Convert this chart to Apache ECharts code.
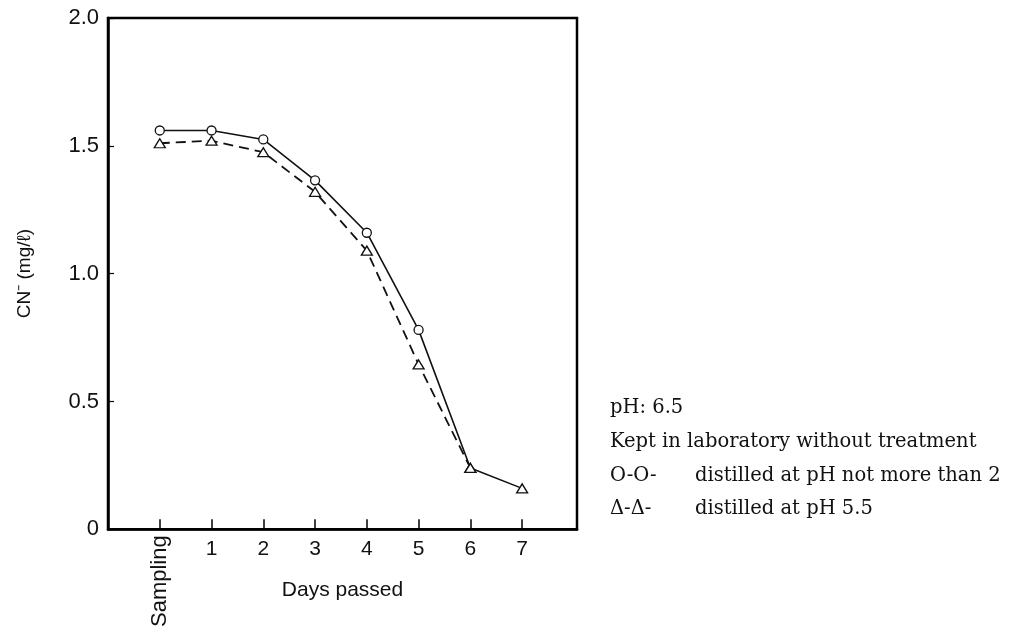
<!DOCTYPE html>
<html>
<head>
<meta charset="utf-8">
<script src="https://cdn.jsdelivr.net/npm/echarts@6/dist/echarts.min.js"></script>
<style>
  html, body { margin: 0; padding: 0; background: #fff; }
  #chart { width: 1017px; height: 630px; }
</style>
</head>
<body>
<div id="chart"></div>
<script>
// Days after sampling (0 = day of sampling)
const days = [0, 1, 2, 3, 4, 5, 6, 7];
const dayLabels = ['Sampling', '1', '2', '3', '4', '5', '6', '7'];
// CN- concentration (mg/l), distilled at pH not more than 2 (circles, solid)
const cnPh2 = [1.56, 1.56, 1.525, 1.365, 1.16, 0.78];
// CN- concentration (mg/l), distilled at pH 5.5 (triangles, dashed)
const cnPh55 = [1.51, 1.52, 1.475, 1.32, 1.09, 0.645, 0.24, 0.16];
const yTicks = [0, 0.5, 1.0, 1.5, 2.0];

const sansFont = "'Liberation Sans', Arial, Helvetica, sans-serif";
const serifFont = "'DejaVu Serif', 'Liberation Serif', serif";

// Solid curve: circles for days 0-5, then joins the triangle points at days 6 and 7
const solidData = days.map((d, i) => {
  if (i < cnPh2.length) return { value: [d, cnPh2[i]], symbol: 'circle', symbolSize: 9 };
  return { value: [d, cnPh55[i]], symbol: 'triangle', symbolSize: [11, 9] };
});
// Dashed curve: triangles for days 0-6
const dashedData = days.slice(0, 7).map((d, i) => [d, cnPh55[i]]);

const chart = echarts.init(document.getElementById('chart'), null, { renderer: 'canvas' });

chart.setOption({
  animation: false,
  backgroundColor: '#fff',
  grid: {
    left: 108, right: 440, top: 18, bottom: 99,
    show: true, borderColor: '#000', borderWidth: 2.5, backgroundColor: 'transparent'
  },
  xAxis: [
    {
      type: 'value', min: -1, max: 8.06,
      axisLine: { show: true, onZero: false, lineStyle: { color: '#000', width: 2.5 } },
      splitLine: { show: false },
      axisTick: { show: true, inside: true, length: 10, customValues: days, lineStyle: { color: '#000', width: 1.5 } },
      axisLabel: {
        customValues: days.slice(1),
        formatter: v => dayLabels[days.indexOf(v)],
        fontFamily: sansFont, fontSize: 21, color: '#111', margin: 9
      },
      name: 'Days passed', nameLocation: 'middle', nameGap: 50,
      nameTextStyle: { fontFamily: sansFont, fontSize: 21, color: '#111' }
    },
    {
      type: 'value', min: -1, max: 8.06, position: 'bottom',
      axisLine: { show: false, onZero: false }, splitLine: { show: false }, axisTick: { show: false },
      axisLabel: {
        customValues: [days[0]],
        formatter: v => dayLabels[days.indexOf(v)],
        rotate: 90, fontFamily: sansFont, fontSize: 22, color: '#111', margin: 6
      }
    }
  ],
  yAxis: {
    type: 'value', min: yTicks[0], max: yTicks[yTicks.length - 1], interval: 0.5,
    axisLine: { show: true, onZero: false, lineStyle: { color: '#000', width: 2.5 } },
    splitLine: { show: false },
    axisTick: { show: true, inside: true, length: 6, lineStyle: { color: '#000', width: 1.2 } },
    axisLabel: {
      formatter: v => (v === 0 ? '0' : v.toFixed(1)),
      fontFamily: sansFont, fontSize: 22, color: '#111', margin: 9
    },
    name: 'CN\u207B (mg/\u2113)', nameLocation: 'middle', nameRotate: 90, nameGap: 74,
    nameTextStyle: { fontFamily: sansFont, fontSize: 19, color: '#111' }
  },
  series: [
    {
      name: 'distilled at pH 5.5', type: 'line', data: dashedData,
      symbol: 'triangle', symbolSize: [11, 9], showAllSymbol: true,
      lineStyle: { color: '#111', width: 1.8, type: [10, 6] },
      itemStyle: { color: '#fff', borderColor: '#111', borderWidth: 1.3 },
      z: 2
    },
    {
      name: 'distilled at pH not more than 2', type: 'line', data: solidData,
      showAllSymbol: true,
      lineStyle: { color: '#111', width: 1.6, type: 'solid' },
      itemStyle: { color: '#fff', borderColor: '#111', borderWidth: 1.3 },
      z: 3
    }
  ],
  graphic: [
    { type: 'text', left: 610, top: 398, style: { text: 'pH: 6.5', font: "19.5px " + serifFont, fill: '#111' } },
    { type: 'text', left: 610, top: 432, style: { text: 'Kept in laboratory without treatment', font: "19.5px " + serifFont, fill: '#111' } },
    { type: 'text', left: 610, top: 466, style: { text: 'O-O-', font: "19.5px " + serifFont, fill: '#111' } },
    { type: 'text', left: 695, top: 466, style: { text: 'distilled at pH not more than 2', font: "19.5px " + serifFont, fill: '#111' } },
    { type: 'text', left: 610, top: 499, style: { text: '\u0394-\u0394-', font: "19.5px " + serifFont, fill: '#111' } },
    { type: 'text', left: 695, top: 499, style: { text: 'distilled at pH 5.5', font: "19.5px " + serifFont, fill: '#111' } }
  ]
});
</script>
</body>
</html>
